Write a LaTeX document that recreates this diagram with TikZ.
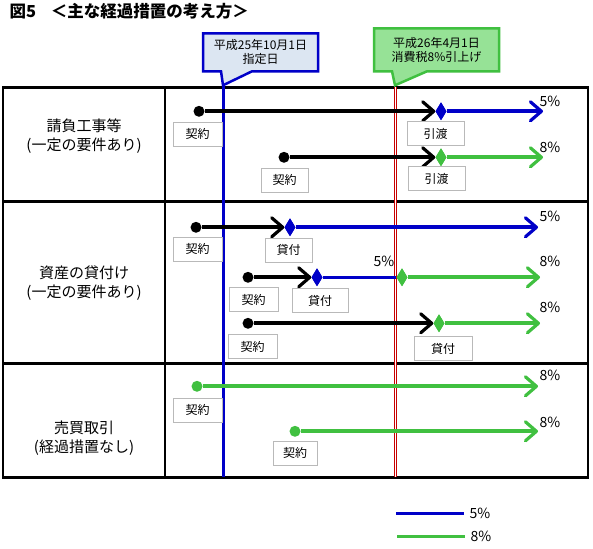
\documentclass[tikz,border=0pt]{standalone}
\usepackage{fontspec}
\newfontfamily\cjk{Noto Sans CJK JP}
\usetikzlibrary{arrows.meta,shapes.geometric,positioning}
\definecolor{tblue}{RGB}{0,0,200}
\definecolor{tgreen}{RGB}{64,192,64}
\definecolor{bluefill}{RGB}{220,230,242}
\definecolor{greenfill}{RGB}{150,226,150}
\definecolor{boxgray}{RGB}{185,185,185}
\definecolor{tred}{RGB}{200,0,0}
\begin{document}
\begin{tikzpicture}[x=1pt,y=-1pt,font=\cjk\fontsize{12}{14}\selectfont,
  dot/.style={circle,fill,inner sep=0,minimum size=11pt},
  dia/.style={diamond,fill,inner sep=0,minimum width=11pt,minimum height=18pt},
  flow/.style={line width=4pt,-{Straight Barb[length=11pt,width=19pt,line width=3.2pt,round]}},
  lbl/.style={draw=boxgray,fill=white,line width=0.8pt,inner sep=0,minimum height=24pt},
  pct/.style={font=\cjk\fontsize{14}{16}\selectfont},
  rowlbl/.style={align=center,font=\cjk\fontsize{15}{19}\selectfont}]
  \fill[white] (0,0) rectangle (593,548);
  \node[anchor=west,font=\cjk\bfseries\fontsize{16.5}{18}\selectfont] (title) at (6,11) {図5\hspace{0.9em}＜主な経過措置の考え方＞};
  % table
  \draw[line width=2.5pt] (3,87) rectangle (588,477);
  \draw[line width=2.5pt] (165,87) -- (165,477) (3,201) -- (588,201) (3,363) -- (588,363);
  \node[rowlbl] (r1) at (84,136) {請負工事等\\(一定の要件あり)};
  \node[rowlbl] (r2) at (84,283) {資産の貸付け\\(一定の要件あり)};
  \node[rowlbl] (r3) at (84,438) {売買取引\\(経過措置なし)};
  % callouts
  \filldraw[fill=bluefill,draw=tblue,line width=2.5pt,line join=miter]
    (203,33) -- (318,33) -- (318,71) -- (252,71) -- (223,85) -- (221,71) -- (203,71) -- cycle;
  \node[align=center] (shitei) at (260.5,52) {平成25年10月1日\\指定日};
  \filldraw[fill=greenfill,draw=tgreen,line width=2.5pt,line join=miter]
    (374,28) -- (499,28) -- (499,71) -- (427,71) -- (395,85) -- (392,71) -- (374,71) -- cycle;
  \node[align=center] (hikiage) at (436.5,50) {平成26年4月1日\\消費税8\%引上げ};
  \coordinate (btop) at (223,85);  \coordinate (bbot) at (223,477);
  \coordinate (rtop) at (395,87);  \coordinate (rbot) at (395,477);
  \draw[tblue,line width=3pt] (btop) -- (bbot);
  \draw[tred,line width=3pt] (rtop) -- (rbot);
  \draw[white,line width=1pt] (rtop) -- (rbot);
  % contract / handover / loan points
  \foreach \n/\x/\y/\c in {c1/199/111/black, c2/284/157/black, c3/196/227/black,
    c4/248/277/black, c5/248/323/black, c6/197/386/tgreen, c7/295/431/tgreen}
    \node[dot,\c] (\n) at (\x,\y) {};
  \foreach \n/\x/\y/\c in {d1/441/111/tblue, d2/441/157/tgreen, d3/290/227/tblue,
    d4/317/277/tblue, d5/402/277/tgreen, d6/439/323/tgreen}
    \node[dia,\c] (\n) at (\x,\y) {};
  \foreach \n/\x/\y in {e1/543/111, e2/543/157, e3/538/227, e4/540/277, e5/540/323,
    e6/538/386, e7/538/431}
    \coordinate (\n) at (\x,\y);
  \draw[flow] (c1) -- (d1.west);
  \draw[flow] (c2) -- (d2.west);
  \draw[flow] (c3) -- (d3.west);
  \draw[flow] (c4) -- (d4.west);
  \draw[flow] (c5) -- (d6.west);
  \draw[flow,tblue] (d1) -- (e1);
  \draw[flow,tgreen] (d2) -- (e2);
  \draw[flow,tblue] (d3) -- (e3);
  \draw[tblue,line width=3pt] (d4) -- (d5.west);
  \draw[flow,tgreen] (d5) -- (e4);
  \draw[flow,tgreen] (d6) -- (e5);
  \draw[flow,tgreen] (c6) -- (e6);
  \draw[flow,tgreen] (c7) -- (e7);
  \node[dia,tblue] at (d1) {}; \node[dia,tgreen] at (d2) {};
  \node[dia,tblue] at (d3) {}; \node[dia,tblue] at (d4) {};
  \node[dia,tgreen] at (d5) {}; \node[dia,tgreen] at (d6) {};
  % labels
  \foreach \n/\x/\y/\w/\t in {k1/197.5/134/49/契約, w1/435.5/133.5/57/引渡,
    k2/284.5/180/47/契約, w2/436.5/178.5/57/引渡,
    k3/197.5/249/49/契約, l3/288.5/250/47/貸付,
    k4/253.5/299.5/49/契約, l4/320/300.5/56/貸付,
    k5/252.5/346.5/49/契約, l5/443/348.5/58/貸付,
    k6/197.5/410/49/契約, k7/295/453/44/契約}
    \node[lbl,minimum width=\w pt] (\n) at (\x,\y) {\t};
  \foreach \n/\x/\y/\t in {p1/550/101/5, p2/550/147/8, p3/550/216/5, p4/384/261/5,
    p5/550/261/8, p6/550/307/8, p7/550/375/8, p8/550/422/8}
    \node[pct] (\n) at (\x,\y) {\t\%};
  % legend
  \coordinate (lb1) at (396,513); \coordinate (lb2) at (464,513);
  \coordinate (lg1) at (397,536); \coordinate (lg2) at (465,536);
  \draw[tblue,line width=3pt] (lb1) -- (lb2);
  \draw[tgreen,line width=3pt] (lg1) -- (lg2);
  \node[pct,right=2pt of lb2] (leg5) {5\%};
  \node[pct,right=2pt of lg2] (leg8) {8\%};
\end{tikzpicture}
\end{document}
